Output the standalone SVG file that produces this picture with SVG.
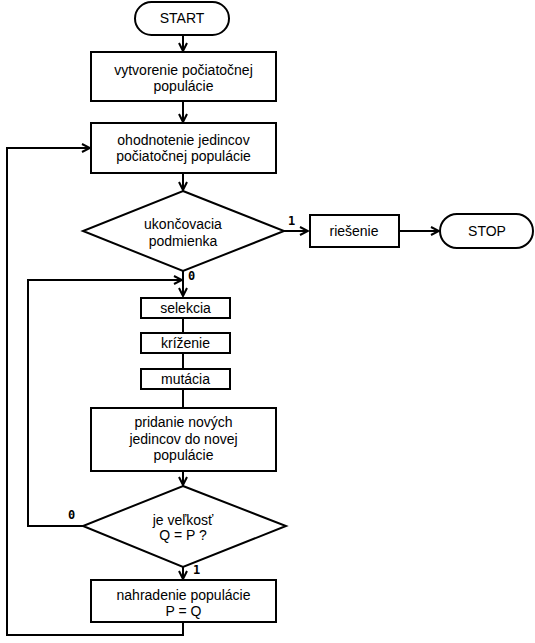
<svg xmlns="http://www.w3.org/2000/svg" width="535" height="643" viewBox="0 0 535 643">
<defs>
<marker id="arr" viewBox="0 0 10 10" refX="9" refY="5" markerWidth="10" markerHeight="10" markerUnits="userSpaceOnUse" orient="auto">
<path d="M1,1 L9,5 L1,9" fill="none" stroke="#000" stroke-width="2"/>
</marker>
<style>
.n{fill:#fff;stroke:#000;stroke-width:2}
.t{font-family:"Liberation Sans",Arial,sans-serif;font-size:14px;fill:#000;text-anchor:middle;dominant-baseline:central}
.l{font-family:"DejaVu Sans Mono","Liberation Mono",monospace;font-size:12px;font-weight:bold;fill:#000;dominant-baseline:central}
.e{fill:none;stroke:#000;stroke-width:2}
.a{marker-end:url(#arr)}
</style>
</defs>
<rect width="535" height="643" fill="#fff"/>
<g id="edges">
<path class="e a" d="M183,35 V51"/>
<path class="e a" d="M183,101 V122"/>
<path class="e a" d="M183,173 V190"/>
<path class="e a" d="M284,231 H308"/>
<path class="e a" d="M399,231 H439"/>
<path class="e a" d="M183,271 V296"/>
<path class="e" d="M183,318 V333"/>
<path class="e" d="M183,353 V369"/>
<path class="e" d="M183,389 V408"/>
<path class="e a" d="M183,471 V485"/>
<path class="e a" d="M183,567 V579"/>
<path class="e a" d="M83,526 H28 V280 H182"/>
<path class="e a" d="M183,622 V635 H7 V148 H90"/>
<text class="l" x="288" y="221">1</text>
<text class="l" x="188" y="276">0</text>
<text class="l" x="68" y="515">0</text>
<text class="l" x="193" y="570">1</text>
</g>
<g id="start"><rect class="n" x="135" y="2" width="94" height="33" rx="16.5"/><text class="t" x="182" y="18">START</text></g>
<g id="init"><rect class="n" x="91" y="52" width="185" height="49"/><text class="t" x="183.5" y="70">vytvorenie počiatočnej</text><text class="t" x="183.5" y="86">populácie</text></g>
<g id="eval"><rect class="n" x="91" y="123" width="185" height="50"/><text class="t" x="183.5" y="140">ohodnotenie jedincov</text><text class="t" x="183.5" y="156">počiatočnej populácie</text></g>
<g id="cond"><polygon class="n" points="183,191 284,231 183,271 83,231"/><text class="t" x="183" y="224">ukončovacia</text><text class="t" x="183" y="241">podmienka</text></g>
<g id="solution"><rect class="n" x="310" y="215" width="89" height="32"/><text class="t" x="354" y="231">riešenie</text></g>
<g id="stop"><rect class="n" x="440" y="214" width="93" height="34" rx="17"/><text class="t" x="487" y="231">STOP</text></g>
<g id="sel"><rect class="n" x="141" y="298" width="89" height="20"/><text class="t" x="185.5" y="308">selekcia</text></g>
<g id="cross"><rect class="n" x="141" y="333" width="89" height="20"/><text class="t" x="185.5" y="343">kríženie</text></g>
<g id="mut"><rect class="n" x="141" y="369" width="89" height="20"/><text class="t" x="185.5" y="379">mutácia</text></g>
<g id="add"><rect class="n" x="91" y="408" width="185" height="63"/><text class="t" x="183.5" y="422">pridanie nových</text><text class="t" x="183.5" y="439">jedincov do novej</text><text class="t" x="183.5" y="455">populácie</text></g>
<g id="size"><polygon class="n" points="183,486 286,526 183,567 83,526"/><text class="t" x="183" y="520">je veľkosť</text><text class="t" x="183" y="535">Q = P ?</text></g>
<g id="replace"><rect class="n" x="91" y="580" width="185" height="42"/><text class="t" x="183.5" y="595">nahradenie populácie</text><text class="t" x="183.5" y="611">P = Q</text></g>
</svg>
